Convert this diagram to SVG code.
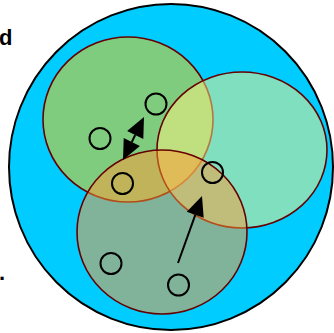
<svg xmlns="http://www.w3.org/2000/svg" width="334" height="333" viewBox="0 0 334 333">
<style>
.region{stroke:#660000;stroke-width:1.6;fill-opacity:0.5}
.pt{fill:none;stroke:#000;stroke-width:2}
.lbl{font-family:"Liberation Sans",Arial,sans-serif;font-weight:bold;font-size:22px;fill:#000}
.conn{stroke:#000;stroke-width:2;fill:none}
.head{fill:#000;stroke:none}
</style>
<rect width="334" height="333" fill="#fff"/>
<g id="world">
<ellipse cx="171" cy="167" rx="162" ry="163" fill="#00CCFF" stroke="#000" stroke-width="2"/>
</g>
<g id="label-d"><text class="lbl" x="-1" y="45">d</text></g>
<g id="label-dot"><text class="lbl" x="-1" y="280">.</text></g>
<g id="region-green"><ellipse class="region" cx="128" cy="119.5" rx="85" ry="82.5" fill="#FFCC00"/></g>
<g id="region-teal"><ellipse class="region" cx="242" cy="150" rx="85" ry="78" fill="#FFF280"/></g>
<g id="region-bottom"><ellipse class="region" cx="162" cy="232" rx="85" ry="82" fill="#FF9933"/></g>
<g id="p1"><circle class="pt" cx="156" cy="104" r="10.5"/></g>
<g id="p2"><circle class="pt" cx="100" cy="138.5" r="10.5"/></g>
<g id="p3"><circle class="pt" cx="122.5" cy="183.5" r="10.5"/></g>
<g id="p4"><circle class="pt" cx="212.5" cy="172.5" r="10.5"/></g>
<g id="p5"><circle class="pt" cx="111" cy="263.5" r="10.5"/></g>
<g id="p6"><circle class="pt" cx="178.5" cy="285" r="10.5"/></g>
<g id="connectors">
<line class="conn" x1="131.8" y1="142" x2="135.2" y2="135"/>
<polygon class="head" points="144,117 143.3,138.9 127.1,131"/>
<polygon class="head" points="123,160 139.9,146 123.7,138.1"/>
<line class="conn" x1="178" y1="263" x2="195.3" y2="214.8"/>
<polygon class="head" points="202,196 203.7,217.8 186.8,211.8"/>
</g>
</svg>
